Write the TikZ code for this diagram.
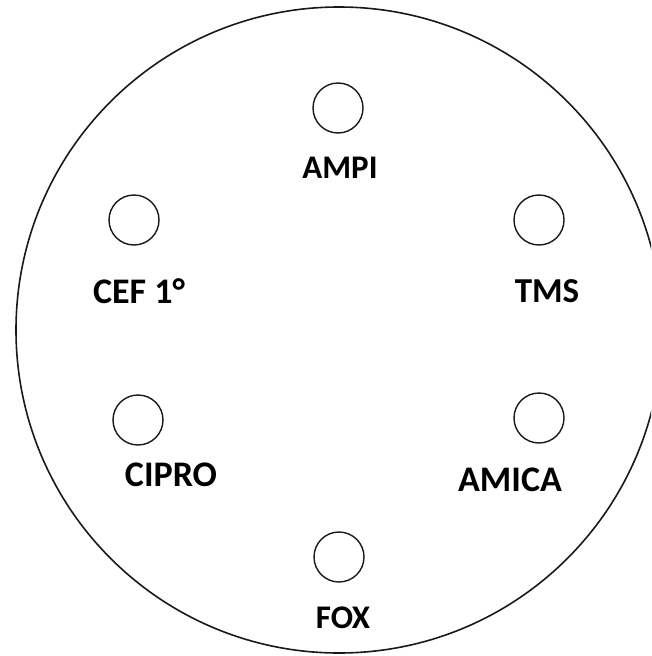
\documentclass[tikz,border=0pt]{standalone}
\usepackage{fontspec}
\setmainfont{Carlito}
\begin{document}
\begin{tikzpicture}[x=1pt,y=-1pt,
  well/.style={draw=black!90,line width=1.4pt,circle,minimum size=50pt,inner sep=0pt},
  lbl/.style={font=\fontsize{#1}{#1}\selectfont\bfseries,anchor=base,inner sep=0pt},
  lbl/.default=35]
\useasboundingbox (0,0) rectangle (651,656);
\clip (0,0) rectangle (651,656);
\node[draw=black!90,line width=1.6pt,circle,minimum size=646pt,inner sep=0pt] (plate) at (339,330) {};
\node[well] (w1) at (338,108) {};
\node[well] (w2) at (539,220) {};
\node[well] (w3) at (134,220) {};
\node[well] (w4) at (138,420) {};
\node[well] (w5) at (539,418) {};
\node[well] (w6) at (339,557) {};
\node[lbl=33] (t1) at (340,178) {AMPI};
\node[lbl=35] (t2) at (547,302) {TMS};
\node[lbl=36] (t3) at (139,303) {CEF 1°};
\node[lbl=36] (t4) at (171,486) {CIPRO};
\node[lbl=36] (t5) at (510,491) {AMICA};
\node[lbl=33] (t6) at (343,628) {FOX};
\end{tikzpicture}
\end{document}
